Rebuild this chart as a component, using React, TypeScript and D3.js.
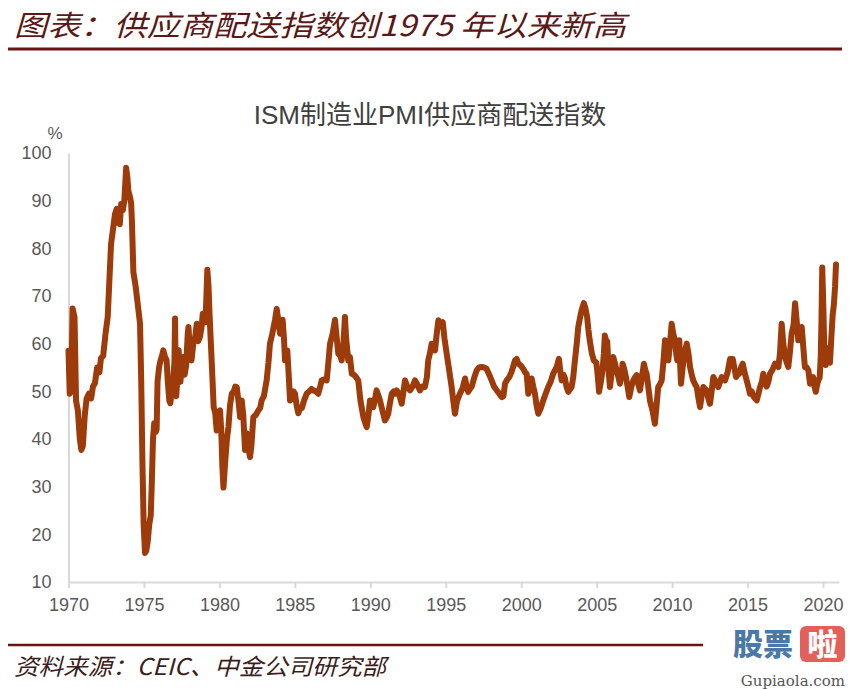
import * as d3 from "d3";
import { useEffect, useRef } from "react";

// ISM supplier deliveries index as [decimal year, value]
const readings1970s: [number, number][] = [
  [1970.00, 58.5], [1970.08, 49.5], [1970.18, 50], [1970.27, 67.4], [1970.40, 65.5], [1970.50, 48], [1970.62, 46],
  [1970.75, 40], [1970.85, 37.7], [1970.95, 38.5], [1971.08, 45], [1971.20, 48.5], [1971.35, 49.5], [1971.50, 48.5],
  [1971.62, 51], [1971.75, 51.7], [1971.90, 55], [1972.05, 54], [1972.15, 56.9], [1972.30, 57.5], [1972.45, 62],
  [1972.60, 65.6], [1972.70, 72.6], [1972.82, 80.9], [1972.95, 84], [1973.08, 87.2], [1973.20, 88.3], [1973.32, 85.3],
  [1973.40, 85.1], [1973.49, 89.3], [1973.60, 88], [1973.70, 90], [1973.82, 96.9], [1973.90, 95], [1973.97, 92],
  [1974.08, 90.7], [1974.15, 89.5], [1974.20, 86], [1974.30, 75], [1974.45, 72], [1974.60, 68], [1974.74, 64.2],
  [1974.82, 52], [1974.90, 35], [1974.98, 22], [1975.07, 16.1], [1975.15, 16.5], [1975.25, 18.5], [1975.35, 22],
  [1975.45, 24], [1975.52, 30.7], [1975.60, 40], [1975.68, 43.3], [1975.78, 41.5], [1975.84, 42], [1975.90, 52],
  [1976.00, 55], [1976.10, 56.5], [1976.20, 57.5], [1976.28, 58.6], [1976.40, 57.2], [1976.50, 56.5], [1976.58, 52],
  [1976.68, 48], [1976.75, 47.5], [1976.85, 51], [1976.95, 53], [1977.02, 56], [1977.06, 65.3], [1977.10, 55],
  [1977.14, 49], [1977.22, 53], [1977.30, 58.6], [1977.36, 54], [1977.42, 52], [1977.50, 56], [1977.60, 57.2],
  [1977.70, 53.5], [1977.80, 55.5], [1977.90, 62], [1977.95, 63.5], [1978.05, 58], [1978.15, 56.5], [1978.27, 60],
  [1978.40, 61.5], [1978.50, 64.2], [1978.60, 60.5], [1978.71, 61.4], [1978.82, 63.5], [1978.90, 66.3], [1979.00, 65],
  [1979.08, 64.5], [1979.20, 75.5], [1979.28, 72], [1979.35, 66], [1979.45, 59], [1979.55, 52], [1979.62, 46.7],
  [1979.72, 45.5], [1979.82, 41.8], [1979.92, 45.4],
];

const readings1980s: [number, number][] = [
  [1980.04, 46], [1980.12, 42], [1980.20, 34], [1980.27, 29.8], [1980.38, 35], [1980.50, 40], [1980.60, 42.5],
  [1980.70, 47], [1980.82, 49.5], [1980.95, 50], [1981.05, 51], [1981.15, 50.9], [1981.28, 47.5], [1981.37, 44.6],
  [1981.48, 48.1], [1981.58, 45], [1981.70, 37.7], [1981.81, 41.2], [1981.92, 38], [1982.03, 36.2], [1982.12, 38.5],
  [1982.25, 44.6], [1982.40, 45], [1982.58, 46], [1982.70, 46.5], [1982.80, 48.1], [1982.95, 49], [1983.13, 52.3],
  [1983.25, 56], [1983.35, 60], [1983.50, 62], [1983.68, 64.9], [1983.80, 67.3], [1983.90, 65], [1984.02, 62.1],
  [1984.10, 62.5], [1984.19, 65], [1984.28, 61], [1984.35, 56.5], [1984.50, 58.6], [1984.60, 53], [1984.68, 48.1],
  [1984.80, 48.5], [1984.90, 50], [1985.01, 49.5], [1985.12, 47], [1985.23, 45.4], [1985.35, 46.5], [1985.47, 46.5],
  [1985.60, 48], [1985.78, 49.5], [1985.95, 50], [1986.10, 50.5], [1986.22, 50.2], [1986.40, 50], [1986.55, 49.5],
  [1986.68, 51], [1986.78, 52.3], [1986.95, 52.5], [1987.11, 52.3], [1987.22, 56], [1987.33, 60], [1987.50, 62],
  [1987.66, 65], [1987.75, 62], [1987.88, 57.9], [1988.00, 57.5], [1988.10, 56.5], [1988.22, 60], [1988.32, 65.6],
  [1988.40, 61], [1988.54, 56.5], [1988.65, 57.2], [1988.77, 53.7], [1988.90, 53.5], [1989.05, 53], [1989.20, 52.3],
  [1989.35, 48], [1989.54, 44.6], [1989.65, 43.5], [1989.76, 42.5], [1989.88, 45], [1989.98, 48.1],
];

const readings1990s: [number, number][] = [
  [1990.10, 47], [1990.20, 46.7], [1990.32, 48.5], [1990.42, 50.2], [1990.55, 49], [1990.64, 48.1], [1990.80, 46],
  [1990.97, 43.9], [1991.08, 44.5], [1991.19, 45.3], [1991.30, 47.5], [1991.42, 49.5], [1991.55, 50], [1991.65, 49.5],
  [1991.75, 50.2], [1991.90, 49.5], [1992.08, 47.4], [1992.20, 50], [1992.30, 52.3], [1992.45, 51], [1992.63, 50.2],
  [1992.80, 51], [1992.96, 52.3], [1993.10, 51.5], [1993.29, 50.2], [1993.45, 51], [1993.62, 50.9], [1993.75, 53],
  [1993.84, 56.5], [1993.95, 58], [1994.07, 60], [1994.18, 59.5], [1994.29, 58.6], [1994.40, 62], [1994.51, 64.9],
  [1994.65, 64], [1994.80, 64.5], [1994.92, 61], [1995.06, 57.9], [1995.20, 55], [1995.39, 50.9], [1995.50, 48],
  [1995.61, 45.3], [1995.75, 48], [1995.94, 49.5], [1996.10, 50.5], [1996.28, 52.7], [1996.38, 51], [1996.49, 49.9],
  [1996.60, 50.5], [1996.72, 51], [1996.90, 53], [1997.05, 54.4], [1997.20, 55], [1997.38, 55.1], [1997.55, 55],
  [1997.71, 54.7], [1997.88, 53.5], [1998.04, 52.3], [1998.20, 51], [1998.38, 50.2], [1998.55, 49.5], [1998.71, 48.8],
  [1998.82, 49], [1998.93, 51.6], [1999.04, 52.3], [1999.21, 53], [1999.35, 54], [1999.45, 55], [1999.59, 56.5],
  [1999.70, 56.8], [1999.81, 55.8], [1999.95, 55.5],
];

const readings2000s: [number, number][] = [
  [2000.14, 54.7], [2000.25, 54], [2000.36, 53.7], [2000.47, 49.5], [2000.58, 51], [2000.69, 52.7], [2000.80, 51],
  [2000.91, 49.5], [2001.02, 47], [2001.13, 45.3], [2001.30, 46.5], [2001.46, 48.1], [2001.62, 49.5], [2001.79, 50.9],
  [2001.95, 52], [2002.12, 53.7], [2002.25, 54.5], [2002.35, 55.1], [2002.50, 56.8], [2002.60, 54], [2002.68, 52.3],
  [2002.80, 53.5], [2002.90, 52.7], [2003.00, 51], [2003.12, 49.9], [2003.25, 50.5], [2003.34, 50.9], [2003.45, 53],
  [2003.56, 56.5], [2003.68, 60], [2003.78, 63.5], [2003.90, 65.5], [2004.00, 67], [2004.15, 68.5], [2004.25, 67.5],
  [2004.37, 65.6], [2004.45, 63], [2004.54, 60.7], [2004.68, 58], [2004.81, 56.5], [2004.98, 56], [2005.08, 53],
  [2005.16, 49.9], [2005.28, 52], [2005.39, 54.4], [2005.48, 58], [2005.54, 61.7], [2005.62, 60.7], [2005.70, 60.5],
  [2005.80, 54], [2005.88, 50.9], [2006.00, 54], [2006.10, 57.2], [2006.20, 56], [2006.32, 54.4], [2006.44, 53],
  [2006.54, 51.6], [2006.64, 53.5], [2006.72, 55.8], [2006.84, 54.5], [2006.94, 53], [2007.05, 51], [2007.16, 48.8],
  [2007.30, 51], [2007.43, 52.3], [2007.55, 53], [2007.65, 53.4], [2007.76, 51.5], [2007.87, 50.2], [2008.00, 53],
  [2008.13, 55.8], [2008.22, 54.5], [2008.31, 53.7], [2008.42, 51], [2008.53, 48.1], [2008.70, 46], [2008.86, 43.2],
  [2008.97, 47], [2009.08, 50.9], [2009.20, 51.5], [2009.31, 52.3], [2009.42, 56], [2009.53, 60.7], [2009.64, 58],
  [2009.75, 56.5], [2009.86, 60], [2009.97, 64.2],
];

const readings2010s: [number, number][] = [
  [2010.08, 62], [2010.19, 60.7], [2010.27, 58], [2010.34, 56.5], [2010.42, 59], [2010.48, 60.7], [2010.54, 55],
  [2010.59, 51.6], [2010.70, 55], [2010.81, 57.9], [2010.97, 60], [2011.08, 58], [2011.19, 55.1], [2011.30, 53.5],
  [2011.40, 52.3], [2011.52, 51.5], [2011.63, 50.9], [2011.75, 48.5], [2011.85, 46.7], [2011.96, 49], [2012.07, 50.9],
  [2012.18, 50.5], [2012.29, 50.2], [2012.40, 48.5], [2012.51, 47.4], [2012.62, 50], [2012.73, 53], [2012.90, 52],
  [2013.06, 50.9], [2013.18, 52], [2013.29, 53], [2013.40, 52.5], [2013.51, 52.3], [2013.68, 54], [2013.84, 56.8],
  [2014.02, 56.8], [2014.12, 55], [2014.24, 53], [2014.35, 53.5], [2014.45, 53.7], [2014.57, 55], [2014.68, 55.8],
  [2014.80, 54], [2014.94, 52.3], [2015.05, 51], [2015.16, 49.5], [2015.27, 50], [2015.38, 49], [2015.50, 48.5],
  [2015.61, 48.1], [2015.72, 49.5], [2015.83, 50.9], [2015.95, 52], [2016.04, 53.7], [2016.15, 52], [2016.27, 51],
  [2016.38, 52], [2016.49, 53.7], [2016.65, 54.5], [2016.82, 55.8], [2016.93, 55.5], [2017.04, 55.1], [2017.15, 58],
  [2017.26, 64.2], [2017.37, 60], [2017.48, 57.2], [2017.60, 56], [2017.70, 55.1], [2017.80, 58], [2017.92, 62.1],
  [2018.05, 64], [2018.15, 68.5], [2018.25, 65], [2018.36, 60.7], [2018.48, 62], [2018.59, 63.5], [2018.70, 59],
  [2018.80, 55.1], [2018.92, 55], [2019.03, 54.4], [2019.14, 51.6], [2019.24, 52.5], [2019.34, 53], [2019.44, 51],
  [2019.52, 49.9], [2019.62, 51.5], [2019.69, 52.3], [2019.78, 52.9], [2019.85, 57.3], [2019.90, 65], [2019.95, 76],
];

const readings2020s: [number, number][] = [
  [2020.02, 68], [2020.10, 57], [2020.18, 55.5], [2020.26, 58.2], [2020.34, 59], [2020.46, 56], [2020.56, 61.7],
  [2020.64, 66], [2020.72, 68.2], [2020.80, 72], [2020.86, 76.6],
];

const xTicks = [1970, 1975, 1980, 1985, 1990, 1995, 2000, 2005, 2010, 2015, 2020];
const yTicks = [10, 20, 30, 40, 50, 60, 70, 80, 90, 100];

const headerText = "图表：供应商配送指数创1975 年以来新高";
const chartTitle = "ISM制造业PMI供应商配送指数";
const sourceText = "资料来源：CEIC、中金公司研究部";

export default function App({ width = 850, height = 689 }) {
  const svgRef = useRef<SVGSVGElement>(null);

  const margin = { top: 153, right: 11, bottom: 107, left: 68.5 };
  const innerRight = width - margin.right;
  const innerBottom = height - margin.bottom;

  useEffect(() => {
    const svg = d3.select(svgRef.current);
    svg.selectAll("*").remove();

    const data = [
      ...readings1970s, ...readings1980s, ...readings1990s,
      ...readings2000s, ...readings2010s, ...readings2020s,
    ];

    const xScale = d3.scaleLinear().domain([1970, 2021.06]).range([margin.left, innerRight]);
    const yScale = d3.scaleLinear().domain([10, 100]).range([innerBottom, margin.top]);

    svg.append("rect").attr("width", width).attr("height", height).attr("fill", "#fff");

    // header
    svg.append("text")
      .attr("x", 14)
      .attr("y", 36)
      .attr("font-family", "'Noto Sans CJK SC', sans-serif")
      .attr("font-style", "italic")
      .attr("font-size", 29)
      .attr("fill", "#5a1818")
      .attr("textLength", 612)
      .attr("lengthAdjust", "spacingAndGlyphs")
      .text(headerText);

    svg.append("line")
      .attr("x1", 8).attr("x2", 842).attr("y1", 49).attr("y2", 49)
      .attr("stroke", "#6b1414").attr("stroke-width", 3);

    // chart title
    svg.append("text")
      .attr("x", 430)
      .attr("y", 124)
      .attr("text-anchor", "middle")
      .attr("font-family", "'Liberation Sans', 'Noto Sans CJK SC', sans-serif")
      .attr("font-size", 26)
      .attr("fill", "#404040")
      .text(chartTitle);

    svg.append("text")
      .attr("x", 55)
      .attr("y", 139)
      .attr("text-anchor", "middle")
      .attr("font-family", "'Liberation Sans', sans-serif")
      .attr("font-size", 17)
      .attr("fill", "#595959")
      .text("%");

    // axes
    const yAxis = svg.append("g")
      .attr("transform", `translate(${margin.left},0)`)
      .call(d3.axisLeft(yScale).tickValues(yTicks).tickSize(0).tickPadding(17));

    const xAxis = svg.append("g")
      .attr("transform", `translate(0,${innerBottom})`)
      .call(d3.axisBottom(xScale).tickValues(xTicks).tickFormat(d3.format("d")).tickSize(6).tickSizeOuter(0).tickPadding(10));

    [yAxis, xAxis].forEach((g) => {
      g.select(".domain").attr("stroke", "#d9d9d9").attr("stroke-width", 2);
      g.selectAll(".tick line").attr("stroke", "#d9d9d9").attr("stroke-width", 2);
      g.selectAll("text")
        .attr("fill", "#595959")
        .style("font-size", "18px")
        .style("font-family", "'Liberation Sans', sans-serif");
    });

    // series line
    const line = d3.line<[number, number]>()
      .x((d) => xScale(d[0]))
      .y((d) => yScale(d[1]));

    svg.append("path")
      .datum(data)
      .attr("d", line)
      .attr("fill", "none")
      .attr("stroke", "#9e3b0b")
      .attr("stroke-width", 6)
      .attr("stroke-linejoin", "round")
      .attr("stroke-linecap", "round");

    // footer
    svg.append("line")
      .attr("x1", 8).attr("x2", 703).attr("y1", 645).attr("y2", 645)
      .attr("stroke", "#6b1414").attr("stroke-width", 2.5);

    svg.append("text")
      .attr("x", 14)
      .attr("y", 675)
      .attr("font-family", "'Noto Sans CJK SC', sans-serif")
      .attr("font-style", "italic")
      .attr("font-size", 23)
      .attr("fill", "#3b1d1d")
      .attr("textLength", 372)
      .attr("lengthAdjust", "spacingAndGlyphs")
      .text(sourceText);

    // watermark
    const mark = svg.append("g");
    mark.append("text")
      .attr("x", 733).attr("y", 655)
      .attr("font-family", "'Noto Sans CJK SC', sans-serif")
      .attr("font-weight", 900)
      .attr("font-size", 30)
      .attr("fill", "#4a78a8")
      .text("股票");
    mark.append("rect")
      .attr("x", 800).attr("y", 626).attr("width", 45).attr("height", 36).attr("rx", 6)
      .attr("fill", "#e35f5a");
    mark.append("text")
      .attr("x", 822.5).attr("y", 655)
      .attr("text-anchor", "middle")
      .attr("font-family", "'Noto Sans CJK SC', sans-serif")
      .attr("font-weight", 900)
      .attr("font-size", 30)
      .attr("fill", "#fff")
      .text("啦");
    mark.append("text")
      .attr("x", 845).attr("y", 686)
      .attr("text-anchor", "end")
      .attr("font-family", "'DejaVu Serif', serif")
      .attr("font-size", 15)
      .attr("fill", "#555")
      .text("Gupiaola.com");
  }, [width, height]);

  return (
    <svg
      ref={svgRef}
      width={width}
      height={height}
      style={{ position: "absolute", left: 0, top: 0, display: "block" }}
    />
  );
}
